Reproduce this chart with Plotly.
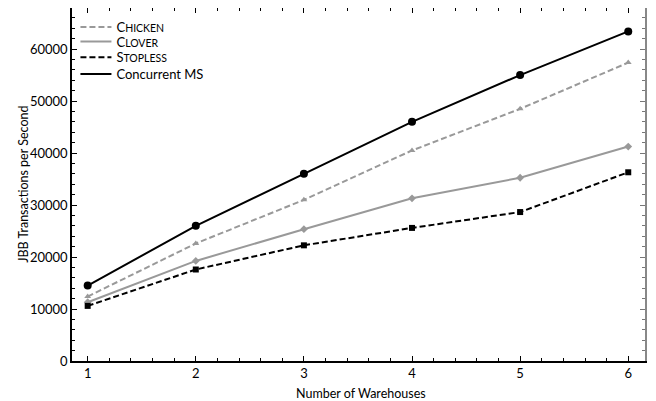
import plotly.graph_objects as go

warehouses = [1, 2, 3, 4, 5, 6]
concurrent_ms = [14500, 26000, 36000, 46000, 55000, 63400]
chicken = [12400, 22600, 31000, 40500, 48500, 57400]
clover = [11300, 19250, 25350, 31300, 35250, 41250]
stopless = [10600, 17600, 22250, 25600, 28650, 36300]

names = ["C<span style='font-size:10.5px'>HICKEN</span>",
         "C<span style='font-size:10.5px'>LOVER</span>",
         "S<span style='font-size:10.5px'>TOPLESS</span>",
         "Concurrent MS"]

GRAY = "#999999"
DASH = "6px,3px"
styles = [
    (chicken, GRAY, DASH, "triangle-up", 6),
    (clover, GRAY, "solid", "diamond", 6),
    (stopless, "black", DASH, "square", 6),
    (concurrent_ms, "black", "solid", "circle", 8),
]
legend_ids = ["legend", "legend2", "legend3", "legend4"]
legend_rows = [0.946, 0.905, 0.860, 0.813]

fig = go.Figure()
for (vals, col, dash, sym, ms) in styles:
    fig.add_trace(go.Scatter(x=warehouses, y=vals, mode="lines+markers",
                             line=dict(color=col, width=2, dash=dash),
                             marker=dict(symbol=sym, size=ms, color=col),
                             showlegend=False))
for (vals, col, dash, sym, ms), nm, lg in zip(styles, names, legend_ids):
    fig.add_trace(go.Scatter(x=[None], y=[None], mode="lines", name=nm, legend=lg,
                             line=dict(color=col, width=2, dash=dash)))

fig.add_trace(go.Scatter(x=[None], y=[None], yaxis="y2", showlegend=False))

font = dict(family="Lato, 'Open Sans', sans-serif", size=13, color="black")
legend_common = dict(x=0.006, xanchor="left", yanchor="middle", bgcolor="rgba(0,0,0,0)",
                     font=dict(size=13), itemwidth=31, borderwidth=0)
layout_legends = {lg: dict(legend_common, y=yy) for lg, yy in zip(legend_ids, legend_rows)}

fig.update_layout(
    width=648, height=393,
    margin=dict(l=64, r=11, t=0, b=40),
    plot_bgcolor="white", paper_bgcolor="white",
    font=font,
    showlegend=True,
    **layout_legends,
    xaxis=dict(range=[0.855, 6.155], tickvals=warehouses, ticks="inside", ticklen=5,
               tickcolor="black", showline=True, linecolor="black", linewidth=1.5,
               mirror="ticks", showgrid=False, zeroline=False, automargin=False,
               tickfont=dict(size=13),
               minor=dict(dtick=0.2, ticks="inside", ticklen=3, tickcolor="black")),
    yaxis=dict(range=[0, 67900], dtick=10000, ticks="inside", ticklen=5,
               tickcolor="black", showline=True, linecolor="black", linewidth=1.5,
               showgrid=False, zeroline=False, tickformat="d", automargin=False,
               tickfont=dict(size=13),
               minor=dict(dtick=2000, ticks="inside", ticklen=3, tickcolor="black")),
    yaxis2=dict(range=[0, 67900], dtick=10000, overlaying="y", side="right",
                ticks="inside", ticklen=5, tickcolor="#777777", showline=True,
                linecolor="#888888", linewidth=1.5, showticklabels=False,
                showgrid=False, zeroline=False, automargin=False,
                minor=dict(dtick=2000, ticks="inside", ticklen=3, tickcolor="#777777")),
    annotations=[
        dict(text="Number of Warehouses", xref="paper", yref="paper", x=0.505, y=-0.0907,
             xanchor="center", yanchor="middle", showarrow=False, font=dict(size=12.5)),
        dict(text="JBB Transactions per Second", xref="paper", yref="paper", x=-0.085, y=0.5,
             xanchor="center", yanchor="middle", textangle=-90, showarrow=False,
             font=dict(size=12.5)),
    ],
)

fig.write_html("out.html")
